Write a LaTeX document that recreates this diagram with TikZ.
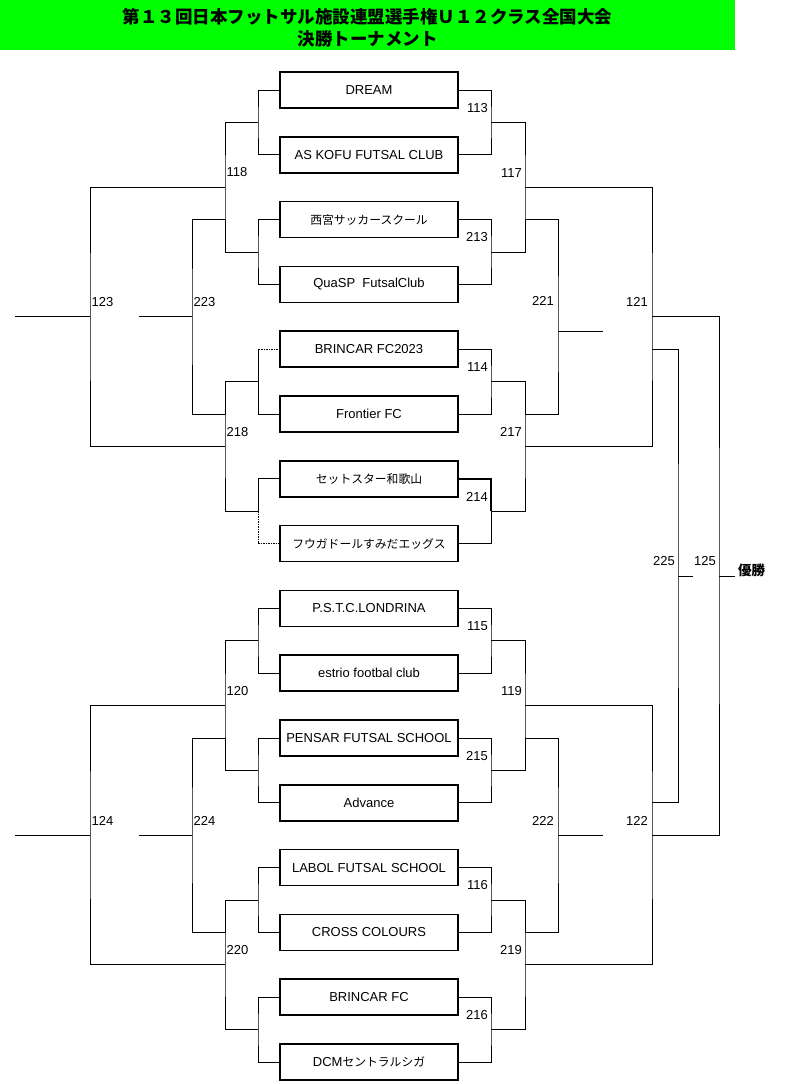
\documentclass[tikz,border=0pt]{standalone}
\usepackage{fontspec}
\setmainfont{Liberation Sans}
\newfontfamily\jpfont{Noto Sans CJK JP}
\usetikzlibrary{positioning, calc}
\definecolor{titlegreen}{RGB}{0,255,0}

\begin{document}
\begin{tikzpicture}[
        x=1pt, y=-1pt,
        team/.style={rectangle, draw, line width=1.6pt, minimum width=178pt, minimum height=36pt, inner sep=2pt, outer sep=0pt, font=\fontsize{13}{15}\selectfont},
        jteam/.style={team, font=\jpfont\fontsize{11.8}{14}\selectfont},
        lbl/.style={inner sep=0pt, font=\fontsize{13}{14}\selectfont},
        bracket/.style={draw, line width=0.9pt},
        bracketdot/.style={bracket, dash pattern=on 1.5pt off 1pt},
        bracketwin/.style={bracket, line width=1.8pt}
    ]
        \useasboundingbox (0,0) rectangle (800,1084);

        % Title bar
        \fill [titlegreen] (0,0) rectangle (735,50);
        \node [inner sep=0pt, align=center, font=\jpfont\bfseries\fontsize{17.5}{22}\selectfont] (title) at (367.5,28) {第１３回日本フットサル施設連盟選手権Ｕ１２クラス全国大会\\決勝トーナメント};

        % Teams, upper half
        \node [team] (dream) at (369,90) {DREAM};
        \node [team, below=28.8pt of dream] (askofu) {AS KOFU FUTSAL CLUB};
        \node [jteam, below=28.8pt of askofu] (nishi) {西宮サッカースクール};
        \node [team, below=28.8pt of nishi] (quasp) {QuaSP\ \ FutsalClub};
        \node [team, below=28.8pt of quasp] (brincar23) {BRINCAR FC2023};
        \node [team, below=28.8pt of brincar23] (frontier) {Frontier FC};
        \node [jteam, below=28.8pt of frontier] (setto) {セットスター和歌山};
        \node [jteam, below=28.8pt of setto] (fuuga) {フウガドールすみだエッグス};

        % Teams, lower half
        \node [team, below=28.8pt of fuuga] (pstc) {P.S.T.C.LONDRINA};
        \node [team, below=28.8pt of pstc] (estrio) {estrio footbal club};
        \node [team, below=28.8pt of estrio] (pensar) {PENSAR FUTSAL SCHOOL};
        \node [team, below=28.8pt of pensar] (advance) {Advance};
        \node [team, below=28.8pt of advance] (labol) {LABOL FUTSAL SCHOOL};
        \node [team, below=28.8pt of labol] (cross) {CROSS COLOURS};
        \node [team, below=28.8pt of cross] (brincar) {BRINCAR FC};
        \node [team, below=28.8pt of brincar] (dcm) {DCM{\jpfont\fontsize{11.8}{14}\selectfont セントラルシガ}};

        % Junctions, left side
        \coordinate (lp1) at (258,122.4);
        \coordinate (lp2) at (258,252);
        \coordinate (lp3) at (258,381.6);
        \coordinate (lp4) at (258,511.2);
        \coordinate (lp5) at (258,640.8);
        \coordinate (lp6) at (258,770.4);
        \coordinate (lp7) at (258,900);
        \coordinate (lp8) at (258,1029.6);
        \coordinate (l118) at (225,187.2);
        \coordinate (l218) at (225,446.4);
        \coordinate (l120) at (225,705.6);
        \coordinate (l220) at (225,964.8);
        \coordinate (l123) at (90,316.8);
        \coordinate (l223) at (192,316.8);
        \coordinate (l124) at (90,835.2);
        \coordinate (l224) at (192,835.2);

        % Junctions, right side
        \coordinate (r113) at (491,122.4);
        \coordinate (r213) at (491,252);
        \coordinate (r114) at (491,381.6);
        \coordinate (r214) at (491,511.2);
        \coordinate (r115) at (491,640.8);
        \coordinate (r215) at (491,770.4);
        \coordinate (r116) at (491,900);
        \coordinate (r216) at (491,1029.6);
        \coordinate (r117) at (525,187.2);
        \coordinate (r217) at (525,446.4);
        \coordinate (r119) at (525,705.6);
        \coordinate (r219) at (525,964.8);
        \coordinate (r221) at (558,331);
        \coordinate (r222) at (558,835.2);
        \coordinate (r121) at (652,316.8);
        \coordinate (r122) at (652,835.2);
        \coordinate (r225) at (678,576);
        \coordinate (r125) at (719,576);

        % Left brackets, upper half
        \path [bracket] (dream.west) -| (lp1) |- (askofu.west);
        \path [bracket] (nishi.west) -| (lp2) |- (quasp.west);
        \path [bracketdot] (brincar23.west) -- (brincar23.west -| lp3);
        \path [bracket] (brincar23.west -| lp3) |- (frontier.west);
        \path [bracket] (setto.west) -| (lp4);
        \path [bracketdot] (lp4) |- (fuuga.west);
        \path [bracket] (lp1) -| (l118) |- (lp2);
        \path [bracket] (lp3) -| (l218) |- (lp4);
        \path [bracket] (l118) -| (l123) |- (l218);
        \path [bracket] (l123) -- ++(-75,0);
        \path [bracket] (l118 |- nishi.west) -| (l223) |- (l218 |- frontier.west);
        \path [bracket] (l223) -- ++(-53,0);

        % Left brackets, lower half
        \path [bracket] (pstc.west) -| (lp5) |- (estrio.west);
        \path [bracket] (pensar.west) -| (lp6) |- (advance.west);
        \path [bracket] (labol.west) -| (lp7) |- (cross.west);
        \path [bracket] (brincar.west) -| (lp8) |- (dcm.west);
        \path [bracket] (lp5) -| (l120) |- (lp6);
        \path [bracket] (lp7) -| (l220) |- (lp8);
        \path [bracket] (l120) -| (l124) |- (l220);
        \path [bracket] (l124) -- ++(-75,0);
        \path [bracket] (l120 |- pensar.west) -| (l224) |- (l220 |- cross.west);
        \path [bracket] (l224) -- ++(-53,0);

        % Right brackets, upper half
        \path [bracket] (dream.east) -| (r113) |- (askofu.east);
        \path [bracket] (nishi.east) -| (r213) |- (quasp.east);
        \path [bracket] (brincar23.east) -| (r114) |- (frontier.east);
        \path [bracketwin] (setto.east) -| (r214);
        \path [bracket] (r214) |- (fuuga.east);
        \path [bracket] (r113) -| (r117) |- (r213);
        \path [bracket] (r114) -| (r217) |- (r214);
        \path [bracket] (r117) -| (r121) |- (r217);
        \path [bracket] (r117 |- nishi.east) -| (r221) |- (r217 |- frontier.east);
        \path [bracket] (r221) -- ++(45,0);

        % Right brackets, lower half
        \path [bracket] (pstc.east) -| (r115) |- (estrio.east);
        \path [bracket] (pensar.east) -| (r215) |- (advance.east);
        \path [bracket] (labol.east) -| (r116) |- (cross.east);
        \path [bracket] (brincar.east) -| (r216) |- (dcm.east);
        \path [bracket] (r115) -| (r119) |- (r215);
        \path [bracket] (r116) -| (r219) |- (r216);
        \path [bracket] (r119) -| (r122) |- (r219);
        \path [bracket] (r119 |- pensar.east) -| (r222) |- (r219 |- cross.east);
        \path [bracket] (r222) -- ++(45,0);

        % Final
        \path [bracket] (r121) -| (r125) |- (r122);
        \path [bracket] (r121 |- brincar23.east) -| (r225) |- (r122 |- advance.east);
        \path [bracket] (r225) -- ++(15,0);
        \path [bracket] (r125) -- ++(16,0);
        \node [anchor=west, inner sep=0pt, font=\jpfont\bfseries\fontsize{13.5}{15}\selectfont] (champ) at (738,570) {優勝};

        % Match numbers, left
        \node [lbl, above right=10pt and 1.5pt of l118] (n118) {118};
        \node [lbl, above right=10pt and 1.5pt of l218] (n218) {218};
        \node [lbl, above right=10pt and 1.5pt of l123] (n123) {123};
        \node [lbl, above right=10pt and 1.5pt of l223] (n223) {223};
        \node [lbl, above right=10pt and 1.5pt of l120] (n120) {120};
        \node [lbl, above right=10pt and 1.5pt of l220] (n220) {220};
        \node [lbl, above right=10pt and 1.5pt of l124] (n124) {124};
        \node [lbl, above right=10pt and 1.5pt of l224] (n224) {224};

        % Match numbers, right
        \node [lbl, above left=10pt and 3pt of r113] (n113) {113};
        \node [lbl, above left=10pt and 3pt of r213] (n213) {213};
        \node [lbl, above left=10pt and 3pt of r114] (n114) {114};
        \node [lbl, above left=10pt and 3pt of r214] (n214) {214};
        \node [lbl, above left=10pt and 3pt of r115] (n115) {115};
        \node [lbl, above left=10pt and 3pt of r215] (n215) {215};
        \node [lbl, above left=10pt and 3pt of r116] (n116) {116};
        \node [lbl, above left=10pt and 3pt of r216] (n216) {216};
        \node [lbl, above left=10pt and 3pt of r117] (n117) {117};
        \node [lbl, above left=10pt and 3pt of r217] (n217) {217};
        \node [lbl, above left=10pt and 3pt of r119] (n119) {119};
        \node [lbl, above left=10pt and 3pt of r219] (n219) {219};
        \node [lbl, above left=25pt and 4pt of r221] (n221) {221};
        \node [lbl, above left=10pt and 4pt of r222] (n222) {222};
        \node [lbl, above left=10pt and 4pt of r121] (n121) {121};
        \node [lbl, above left=10pt and 4pt of r122] (n122) {122};
        \node [lbl, above left=10pt and 3pt of r225] (n225) {225};
        \node [lbl, above left=10pt and 3pt of r125] (n125) {125};

    \end{tikzpicture}
\end{document}
